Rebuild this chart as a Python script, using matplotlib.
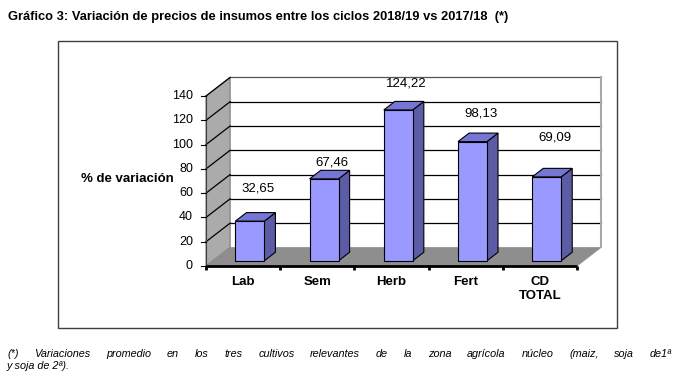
import matplotlib
matplotlib.use("Agg")
import matplotlib.pyplot as plt
import matplotlib.transforms as mtransforms
from matplotlib import font_manager
from matplotlib.patches import Polygon, Rectangle

# data
categories = ["Lab", "Sem", "Herb", "Fert", "CD\nTOTAL"]
values = [32.65, 67.46, 124.22, 98.13, 69.09]
value_labels = ["32,65", "67,46", "124,22", "98,13", "69,09"]
yticks = [0, 20, 40, 60, 80, 100, 120, 140]

title = "Gráfico 3: Variación de precios de insumos entre los ciclos 2018/19 vs 2017/18  (*)"
footnote_line1 = ("(*) Variaciones promedio en los tres cultivos relevantes de la "
                  "zona agrícola núcleo (maiz, soja de1ª")
footnote_line2 = "y soja de 2ª)."

# layout: where the value labels sit (data units), as placed in the original
label_y = [63.5, 85.5, 150.5, 126.0, 105.5]

W, H = 679, 384
plt.rcParams["font.family"] = ["Liberation Sans", "DejaVu Sans"]

names = {f.name for f in font_manager.fontManager.ttflist}
if "Liberation Sans Narrow" in names:
    title_font = dict(family=["Liberation Sans Narrow", "DejaVu Sans"], size=9.6)
else:
    title_font = dict(family=["Liberation Sans", "DejaVu Sans"], size=9.3)

fig = plt.figure(figsize=(W / 100, H / 100), dpi=100)

# outer frame of the chart
fig.patches.append(Rectangle((58 / W, 1 - 328 / H), (617 - 58) / W, (328 - 41) / H,
                             transform=fig.transFigure, fill=False,
                             edgecolor="#404040", linewidth=1.0))

# axes = front plane of the 3D box
ax = fig.add_axes([206 / W, (H - 266) / H, (577 - 206) / W, (266 - 96) / H])
ax.set_xlim(0, len(categories))
ax.set_ylim(0, 140)
ax.axis("off")

n = len(categories)
DX = 0.325   # depth offset in category units
DY = 15.3    # depth offset in value units

# back wall
ax.add_patch(Polygon([(DX, DY), (n + DX, DY), (n + DX, 140 + DY), (DX, 140 + DY)],
                     closed=True, facecolor="white", edgecolor="none", clip_on=False))
# left wall
ax.add_patch(Polygon([(0, 0), (DX, DY), (DX, 140 + DY), (0, 140)], closed=True,
                     facecolor="#ABABAB", edgecolor="#7A7A7A", linewidth=0.8,
                     clip_on=False, zorder=1))
# floor
ax.add_patch(Polygon([(0, 0), (n, 0), (n + DX, DY), (DX, DY)], closed=True,
                     facecolor="#8E8E8E", edgecolor="#8E8E8E", linewidth=0.5,
                     clip_on=False, zorder=1))

# gridlines on back wall and left wall
for v in yticks[1:]:
    c = "#555555" if v == 140 else "black"
    ax.plot([DX, n + DX], [v + DY, v + DY], color=c, lw=0.9, clip_on=False, zorder=2)
    ax.plot([0, DX], [v, v + DY], color="black", lw=0.9, clip_on=False, zorder=2)
# right edge of back wall
ax.plot([n + DX, n + DX], [DY, 140 + DY], color="#A8A8A8", lw=1.5, clip_on=False, zorder=2)

# y axis
ax.plot([0, 0], [0, 140], color="#404040", lw=0.8, clip_on=False, zorder=3)
lab_off = mtransforms.offset_copy(ax.transData, fig=fig, x=-13, y=0, units="dots")
for v in yticks:
    ax.plot([-0.07, 0], [v, v], color="black", lw=0.8, clip_on=False, zorder=3)
    ax.text(0, v, str(v), transform=lab_off, ha="right", va="center", fontsize=9)

# x axis
ax.plot([0, n], [0, 0], color="black", lw=2.0, clip_on=False, zorder=3,
        solid_capstyle="butt")
for i in range(n + 1):
    ax.plot([i, i], [0, -3], color="black", lw=2.0, clip_on=False, zorder=3,
            solid_capstyle="butt")

cat_off = mtransforms.offset_copy(ax.transData, fig=fig, x=0, y=-10, units="dots")
for i, cat in enumerate(categories):
    ax.text(i + 0.5, 0, cat, transform=cat_off, ha="center", va="top",
            fontsize=9.5, fontweight="bold", linespacing=1.25)

# 3D bars
bw = 0.39
d0, d1 = 0.28, 0.74
dd = d1 - d0
front_c, top_c, side_c = "#9999FF", "#7676D6", "#5C5CA6"
for i, v in enumerate(values):
    fx = i + (1 - bw) / 2 + d0 * DX
    fy = d0 * DY
    ax.add_patch(Polygon([(fx + bw, fy), (fx + bw + dd * DX, fy + dd * DY),
                          (fx + bw + dd * DX, fy + v + dd * DY), (fx + bw, fy + v)],
                         closed=True, facecolor=side_c, edgecolor="black",
                         linewidth=0.8, clip_on=False, zorder=4))
    ax.add_patch(Polygon([(fx, fy + v), (fx + bw, fy + v),
                          (fx + bw + dd * DX, fy + v + dd * DY), (fx + dd * DX, fy + v + dd * DY)],
                         closed=True, facecolor=top_c, edgecolor="black",
                         linewidth=0.8, clip_on=False, zorder=4))
    ax.add_patch(Rectangle((fx, fy), bw, v, facecolor=front_c, edgecolor="black",
                           linewidth=0.8, clip_on=False, zorder=5))
    ax.text(i + 0.7, label_y[i], value_labels[i], ha="center", va="center",
            fontsize=9.5, zorder=6)

# y axis title
fig.text(127 / W, 1 - 179 / H, "% de variación", ha="center", va="center",
         fontsize=9.5, fontweight="bold")

# chart title
fig.text(8 / W, 1 - 17 / H, title, ha="left", va="center", fontweight="bold",
         **title_font)

# footnote, first line justified between two edges
renderer = fig.canvas.get_renderer()
words = footnote_line1.split()
x_left, x_right = 7, 672
y1 = H - 354
items = [fig.text(0, y1 / H, w, ha="left", va="center", fontsize=7.8, style="italic")
         for w in words]
widths = [t.get_window_extent(renderer).width for t in items]
gap = (x_right - x_left - sum(widths)) / (len(words) - 1)
x = x_left
for t, w in zip(items, widths):
    t.set_x(x / W)
    x += w + gap
fig.text(x_left / W, (H - 366) / H, footnote_line2, ha="left", va="center",
         fontsize=7.8, style="italic")

fig.savefig("out.png", dpi=100)
